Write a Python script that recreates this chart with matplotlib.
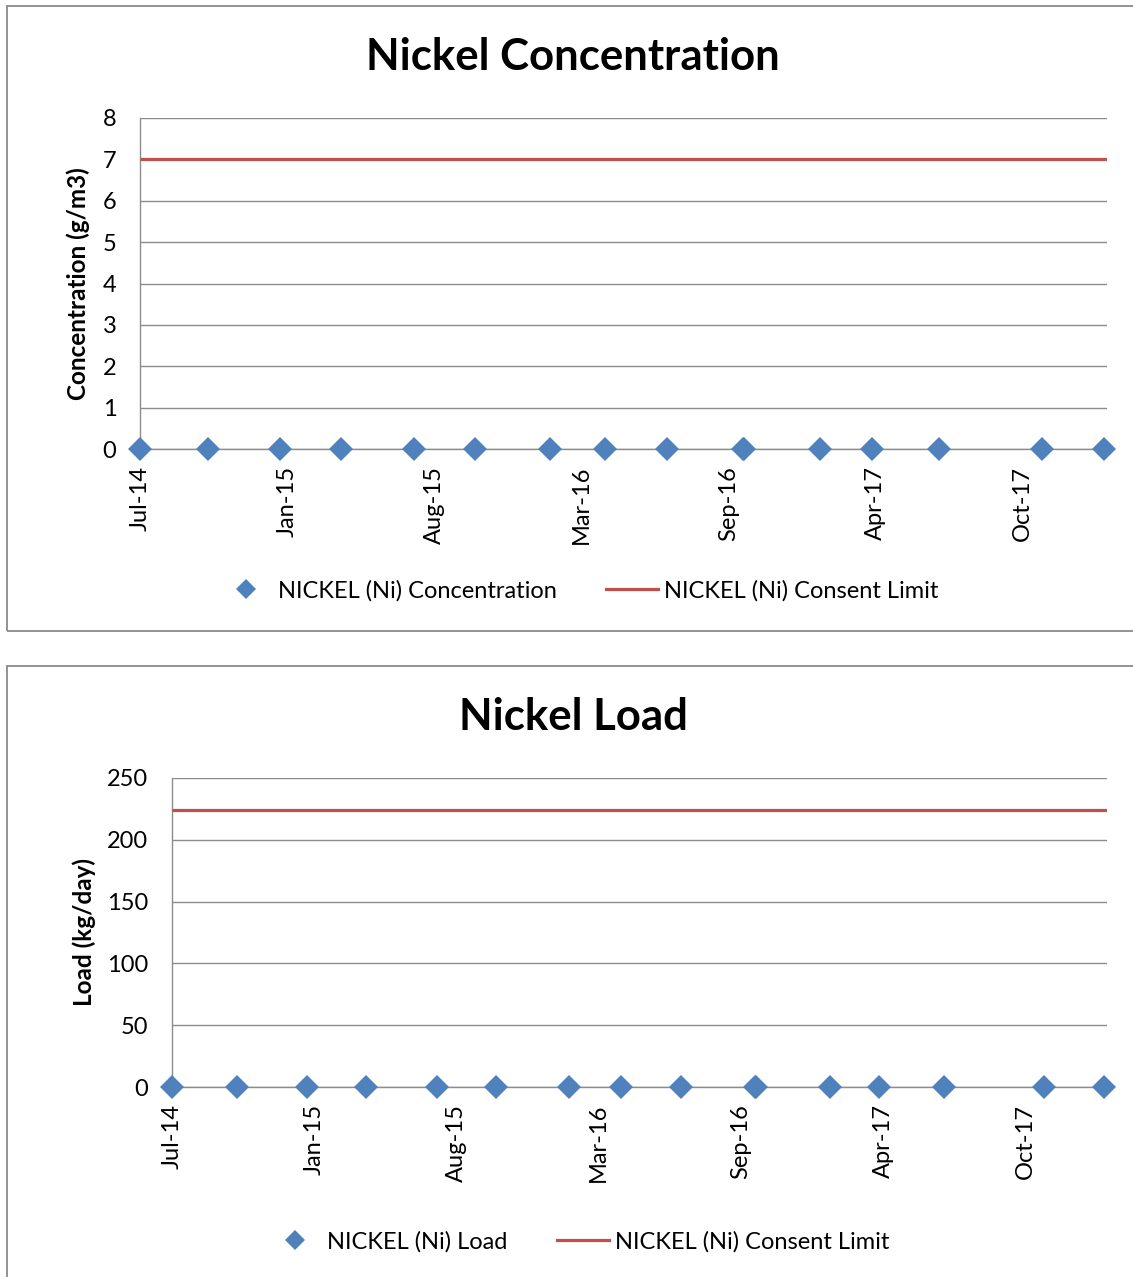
import numpy as np
import matplotlib
matplotlib.use("Agg")
import matplotlib.pyplot as plt
import matplotlib.dates as mdates
from matplotlib.patches import Rectangle
from matplotlib.lines import Line2D

plt.rcParams['font.family'] = ['Lato', 'DejaVu Sans']

# ---- data ----
sample_dates = ["2014-07-12", "2014-10-12", "2015-01-18", "2015-04-11", "2015-07-19",
                "2015-10-11", "2016-01-21", "2016-04-04", "2016-06-27", "2016-10-09",
                "2016-10-11", "2017-01-22", "2017-04-02", "2017-07-02", "2017-11-19",
                "2018-02-12"]
ni_concentration = [0, 0, 0, 0, 0, 0, 0, 0, 0, 0, 0, 0, 0, 0, 0, 0]
ni_load = [0, 0, 0, 0, 0, 0, 0, 0, 0, 0, 0, 0, 0, 0, 0, 0]
conc_limit = 7
load_limit = 224
tick_labels = ["Jul-14", "Jan-15", "Aug-15", "Mar-16", "Sep-16", "Apr-17", "Oct-17"]

axis_start = np.datetime64("2014-07-12")
axis_end = np.datetime64("2018-02-16")
tick_step_days = 200

W, H = 1133, 1277
fig = plt.figure(figsize=(W / 100, H / 100), dpi=100)

BLUE = "#4F81BD"
RED = "#C0504D"
GRID = "#8C8C8C"
FS_TICK = 17


def px_axes(left, top, right, bottom):
    return fig.add_axes([left / W, 1 - bottom / H, (right - left) / W, (bottom - top) / H])


def panel_box(top, bottom):
    fig.patches.append(Rectangle((7 / W, 1 - bottom / H), (W + 20) / W, (bottom - top) / H,
                                 transform=fig.transFigure, fill=False,
                                 edgecolor="#8A8A8A", linewidth=1.3))


def draw_panel(ax, values, limit, ymax, ystep, series_label, ylabel):
    dates = np.array(sample_dates, dtype="datetime64[D]")
    x = mdates.date2num(dates)
    x0 = mdates.date2num(axis_start)
    x1 = mdates.date2num(axis_end)
    ax.plot([x0, x1], [limit, limit], color=RED, linewidth=2.3, solid_capstyle="butt",
            label="NICKEL (Ni) Consent Limit", zorder=3)
    ax.plot(x, values, linestyle="none", marker="D", markersize=12.5, color=BLUE,
            markeredgewidth=0, label=series_label, zorder=4, clip_on=False)
    ax.set_xlim(x0, x1)
    ax.set_ylim(0, ymax)
    ticks = x0 + np.arange(len(tick_labels)) * tick_step_days
    ax.set_xticks(ticks)
    ax.set_xticklabels(tick_labels, rotation=90, fontsize=FS_TICK, va="top", ha="center")
    ax.set_yticks(np.arange(0, ymax + ystep / 2, ystep))
    ax.tick_params(axis="y", length=0, pad=17, labelsize=FS_TICK)
    ax.tick_params(axis="x", length=0, pad=12)
    ax.grid(axis="y", color=GRID, linewidth=1.0)
    ax.set_axisbelow(True)
    for s in ["top", "right"]:
        ax.spines[s].set_visible(False)
    ax.spines["left"].set_color(GRID)
    ax.spines["bottom"].set_color(GRID)
    ax.spines["left"].set_linewidth(1.0)
    ax.spines["bottom"].set_linewidth(1.0)
    ax.set_ylabel(ylabel, fontsize=17.5, fontweight="bold")


# ---- Concentration panel ----
panel_box(6, 631)
ax1 = px_axes(140, 118, 1107, 449)
draw_panel(ax1, ni_concentration, conc_limit, 8, 1, "NICKEL (Ni) Concentration",
           "Concentration (g/m3)")
ax1.yaxis.set_label_coords(90 / W, 1 - 284 / H, transform=fig.transFigure)
fig.text(573 / W, 1 - 57 / H, "Nickel Concentration", ha="center", va="center",
         fontsize=31.5, fontweight="bold")

# ---- Load panel ----
panel_box(666, 1300)
ax2 = px_axes(172, 778, 1107, 1087)
draw_panel(ax2, ni_load, load_limit, 250, 50, "NICKEL (Ni) Load", "Load (kg/day)")
ax2.yaxis.set_label_coords(96 / W, 1 - 932 / H, transform=fig.transFigure)
fig.text(573 / W, 1 - 717 / H, "Nickel Load", ha="center", va="center",
         fontsize=31.5, fontweight="bold")


def add_legend(series_label, cx, cy):
    handles = [Line2D([], [], linestyle="none", marker="D", markersize=10.5, color=BLUE,
                      markeredgewidth=0),
               Line2D([], [], color=RED, linewidth=2.3)]
    fig.legend(handles, [series_label, "NICKEL (Ni) Consent Limit"], loc="center",
               bbox_to_anchor=(cx / W, 1 - cy / H), ncol=2, frameon=False,
               fontsize=FS_TICK, handlelength=2.2, handletextpad=0.25,
               columnspacing=2.1, borderpad=0)


add_legend("NICKEL (Ni) Concentration", 579, 591)
add_legend("NICKEL (Ni) Load", 579, 1242)

fig.savefig("out.png", dpi=100)
